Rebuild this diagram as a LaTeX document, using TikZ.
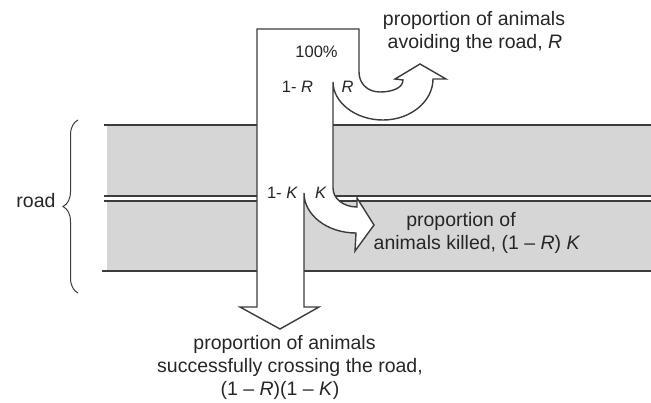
\documentclass[tikz,border=0pt]{standalone}
\usepackage{fontspec}
\setmainfont{Liberation Sans}
\usetikzlibrary{decorations.pathreplacing}
\definecolor{roadgray}{RGB}{214,214,214}
\definecolor{edgegray}{RGB}{60,60,60}
\begin{document}
\begin{tikzpicture}[x=1pt,y=-1pt,
  captext/.style={font=\fontsize{19.5}{23}\selectfont, inner sep=0pt, anchor=base, text=black!85},
  labtext/.style={font=\fontsize{16.5}{19}\selectfont, inner sep=0pt, anchor=base, text=black!85},
  roadline/.style={draw=edgegray, line width=1.6pt},
  flow/.style={draw=edgegray, line width=1.4pt, fill=white, line join=miter}]
\useasboundingbox (0,0) rectangle (651,402);
% road bands
\fill[roadgray] (107,125) rectangle (651,196);
\fill[roadgray] (107,201) rectangle (651,271);
\draw[roadline] (104,125) -- (651,125);
\draw[roadline] (104,196) -- (651,196);
\draw[roadline] (104,201) -- (651,201);
\draw[roadline] (102,271) -- (651,271);
% brace
\coordinate (braceBot) at (78,293);
\coordinate (braceTop) at (78,120);
\draw[edgegray, line width=1pt, decorate, decoration={brace, amplitude=15pt}] (braceBot) -- (braceTop);
\node[captext] (road) at (36,207) {road};
% flow arrow
\draw[flow] (257,29) -- (359,29) -- (359,72)
  .. controls (359,84) and (368,92) .. (380,92)
  .. controls (392,92) and (403,88) .. (403,80)
  -- (395,79) -- (420,64) -- (446,79) -- (433,79)
  .. controls (433,101) and (411,120) .. (383,120)
  .. controls (355,120) and (333,102) .. (333,82)
  -- (333,188)
  .. controls (333,198.5) and (343.3,207) .. (357,207)
  -- (357,198) -- (374,225) -- (355,251) -- (356,233)
  .. controls (327.3,233) and (304,215) .. (304,193)
  -- (304,307) -- (319,307) -- (280,329) -- (240,307) -- (257,307) -- cycle;
% labels
\node[labtext] (hundred) at (316.5,57) {100\%};
\node[labtext] (oneminusR) at (297.5,92) {1- \textit{R}};
\node[labtext] (Rlab) at (347.5,92) {\textit{R}};
\node[labtext] (oneminusK) at (282.5,198.5) {1- \textit{K}};
\node[labtext] (Klab) at (321,198.5) {\textit{K}};
% captions
\node[captext] (avoidA) at (474,25) {proportion of animals};
\node[captext] (avoidB) at (475,48) {avoiding the road, \textit{R}};
\node[captext] (killA) at (461,226) {proportion of};
\node[captext] (killB) at (477,249) {animals killed, (1 – \textit{R}) \textit{K}};
\node[captext] (crossA) at (284.5,349) {proportion of animals};
\node[captext] (crossB) at (290,372) {successfully crossing the road,};
\node[captext] (crossC) at (280,395) {(1 – \textit{R})(1 – \textit{K})};
\end{tikzpicture}
\end{document}
